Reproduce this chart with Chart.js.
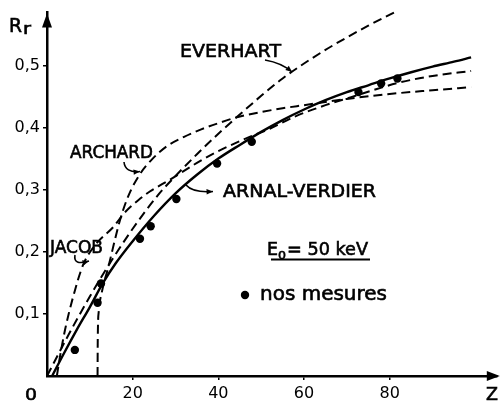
<!DOCTYPE html>
<html>
<head>
<meta charset="utf-8">
<script src="https://cdn.jsdelivr.net/npm/chart.js@4/dist/chart.umd.min.js"></script>
<style>
  html, body { margin: 0; padding: 0; background: #fff; }
</style>
</head>
<body>
<canvas id="chart" width="501" height="403"></canvas>
<script>
// Valeurs (Z, Rr)
const arnalZ = [1.2, 4, 7, 10, 13, 16, 20, 25, 30, 35, 40, 45, 50, 55, 60, 65, 70, 75, 80, 85, 90, 95, 99];
const arnalR = [0, 0.037, 0.075, 0.111, 0.149, 0.181, 0.217, 0.258, 0.294, 0.324, 0.35, 0.372, 0.393, 0.412, 0.429, 0.444, 0.457, 0.468, 0.479, 0.489, 0.498, 0.506, 0.513];

const everZ = [0, 5, 10, 15, 20, 26, 30, 35, 40, 45, 50, 55, 60, 65, 70, 75, 81];
const everR = [0, 0.066, 0.128, 0.185, 0.237, 0.292, 0.322, 0.357, 0.39, 0.421, 0.451, 0.479, 0.503, 0.525, 0.545, 0.564, 0.585];

const jacobZ = [2.3, 3, 4.2, 6, 8.5, 11.5, 15.5, 18, 21.3, 24, 28.7, 35, 40, 47.3, 52, 58, 65, 71, 77, 82, 90, 99];
const jacobR = [0, 0.03, 0.074, 0.125, 0.18, 0.213, 0.24, 0.262, 0.283, 0.297, 0.316, 0.343, 0.362, 0.385, 0.398, 0.418, 0.436, 0.449, 0.462, 0.472, 0.483, 0.491];

const archZ = [11.8, 11.85, 12.1, 12.8, 14.3, 17, 19, 21.7, 24.4, 28, 32, 36, 40, 44.6, 50, 55, 60, 70, 80, 90, 99];
const archR = [0, 0.06, 0.105, 0.135, 0.175, 0.25, 0.29, 0.325, 0.348, 0.37, 0.385, 0.397, 0.407, 0.417, 0.425, 0.431, 0.436, 0.446, 0.454, 0.46, 0.465];

// nos mesures
const mesZ = [6.5, 11.8, 12.6, 21.7, 24.2, 30.2, 39.7, 47.8, 72.7, 78, 81.8];
const mesR = [0.042, 0.118, 0.149, 0.221, 0.241, 0.285, 0.342, 0.377, 0.457, 0.471, 0.479];

const xTicks = [20, 40, 60, 80];
const yTicks = [0.1, 0.2, 0.3, 0.4, 0.5];

const toPts = (zs, rs) => zs.map((z, i) => ({ x: z, y: rs[i] }));

const dashed = {
  type: 'scatter', showLine: true, borderColor: '#000', borderWidth: 2,
  borderDash: [9, 5], pointRadius: 0, fill: false,
  cubicInterpolationMode: 'monotone', clip: false
};

// texte comprimé à une largeur donnée (lettrage étroit de l'original)
function txt(ctx, s, x, y, w, size) {
  ctx.save();
  ctx.font = size + 'px "DejaVu Sans"';
  const m = ctx.measureText(s).width;
  ctx.translate(x, y);
  ctx.scale(w / m, 1);
  ctx.lineWidth = 0.6;
  ctx.fillText(s, 0, 0);
  ctx.strokeText(s, 0, 0);
  ctx.restore();
}

function pointer(ctx, pts, ang) {
  ctx.beginPath();
  ctx.moveTo(pts[0], pts[1]);
  ctx.quadraticCurveTo(pts[2], pts[3], pts[4], pts[5]);
  ctx.stroke();
  const x = pts[4], y = pts[5];
  ctx.beginPath();
  ctx.moveTo(x, y);
  ctx.lineTo(x - 7 * Math.cos(ang - 0.4), y - 7 * Math.sin(ang - 0.4));
  ctx.lineTo(x - 7 * Math.cos(ang + 0.4), y - 7 * Math.sin(ang + 0.4));
  ctx.closePath();
  ctx.fill();
}

const decor = {
  id: 'decor',
  afterDraw(chart) {
    const ctx = chart.ctx;
    const a = chart.chartArea;
    ctx.save();
    ctx.fillStyle = '#000';
    ctx.strokeStyle = '#000';
    ctx.lineWidth = 1.8;

    // flèches des axes
    ctx.beginPath();
    ctx.moveTo(a.left, a.top + 1);
    ctx.lineTo(a.left - 5, a.top + 15);
    ctx.lineTo(a.left + 5, a.top + 15);
    ctx.closePath();
    ctx.fill();
    ctx.beginPath();
    ctx.moveTo(a.right + 3, a.bottom);
    ctx.lineTo(a.right - 10, a.bottom - 5);
    ctx.lineTo(a.right - 10, a.bottom + 5);
    ctx.closePath();
    ctx.fill();

    ctx.textBaseline = 'alphabetic';
    // titres des axes
    txt(ctx, 'R', 9, 32, 13, 19);
    txt(ctx, 'r', 23, 34, 8, 15);
    txt(ctx, 'Z', 486, 400, 12, 17);
    txt(ctx, '0', 25, 400, 12, 16);

    // noms des courbes
    txt(ctx, 'EVERHART', 180, 57, 101, 18);
    txt(ctx, 'ARCHARD', 70, 158, 83, 18);
    txt(ctx, 'ARNAL-VERDIER', 223, 197, 153, 18);
    txt(ctx, 'JACOB', 50, 253, 53, 18);

    // E0 = 50 keV souligné
    txt(ctx, 'E', 267, 255, 11, 18);
    txt(ctx, '0', 278, 259, 8, 11);
    txt(ctx, '= 50 keV', 287, 255, 81, 18);
    ctx.lineWidth = 2;
    ctx.beginPath();
    ctx.moveTo(271, 259.5);
    ctx.lineTo(370, 259.5);
    ctx.stroke();

    // légende des mesures
    ctx.beginPath();
    ctx.arc(245, 295, 4.2, 0, Math.PI * 2);
    ctx.fill();
    txt(ctx, 'nos mesures', 260, 300, 127, 19);

    // petites flèches courbes
    ctx.lineWidth = 1.6;
    pointer(ctx, [265, 60, 282, 63, 292, 72], 0.7);
    pointer(ctx, [124, 162, 125, 173, 140, 171.5], -0.1);
    pointer(ctx, [75, 255, 73, 266, 89, 261], -0.3);
    pointer(ctx, [186, 185, 193, 193, 213, 191.5], -0.05);
    ctx.restore();
  }
};

new Chart(document.getElementById('chart'), {
  type: 'scatter',
  data: {
    datasets: [
      { ...dashed, label: 'EVERHART', data: toPts(everZ, everR) },
      { ...dashed, label: 'ARCHARD', data: toPts(archZ, archR) },
      { ...dashed, label: 'JACOB', data: toPts(jacobZ, jacobR) },
      {
        type: 'scatter', showLine: true, label: 'ARNAL-VERDIER', data: toPts(arnalZ, arnalR),
        borderColor: '#000', borderWidth: 2.4, pointRadius: 0, fill: false,
        cubicInterpolationMode: 'monotone', clip: false
      },
      {
        type: 'scatter', label: 'nos mesures', data: toPts(mesZ, mesR),
        showLine: false, pointRadius: 4.2, pointBackgroundColor: '#000',
        pointBorderColor: '#000', pointBorderWidth: 0
      }
    ]
  },
  options: {
    responsive: false,
    animation: false,
    devicePixelRatio: 1,
    layout: { padding: { top: 12, right: 4, left: 0, bottom: 0 } },
    plugins: { legend: { display: false }, tooltip: { enabled: false } },
    scales: {
      x: {
        type: 'linear', min: 0, max: 105,
        border: { color: '#000', width: 2.5 },
        grid: { drawOnChartArea: false, drawTicks: true, tickLength: 4, color: '#000', lineWidth: 1.5 },
        ticks: { color: '#000', font: { family: 'DejaVu Sans', size: 16 }, padding: 4 },
        afterBuildTicks: s => { s.ticks = xTicks.map(v => ({ value: v })); },
        afterFit: s => { s.height = 27; }
      },
      y: {
        type: 'linear', min: 0, max: 0.585,
        border: { color: '#000', width: 2.5 },
        grid: { drawOnChartArea: false, drawTicks: true, tickLength: 4, color: '#000', lineWidth: 1.5 },
        ticks: {
          color: '#000', font: { family: 'DejaVu Sans', size: 16 }, padding: 3,
          callback: v => v.toFixed(1).replace('.', ',')
        },
        afterBuildTicks: s => { s.ticks = yTicks.map(v => ({ value: v })); },
        afterFit: s => { s.width = 47; }
      }
    }
  },
  plugins: [decor]
});
</script>
</body>
</html>
